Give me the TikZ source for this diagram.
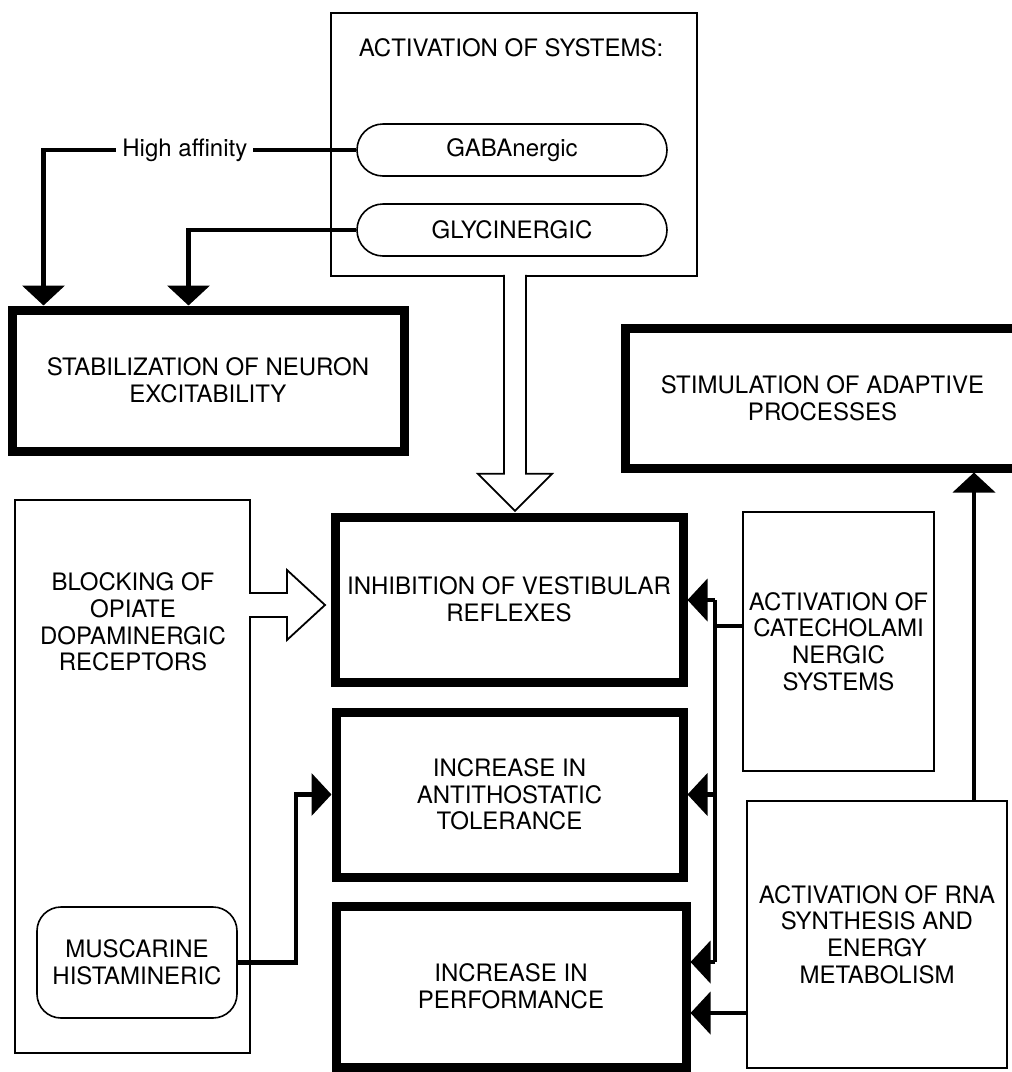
\documentclass[tikz,border=0pt]{standalone}
\usepackage{fontspec}
\setmainfont{TeX Gyre Heros}
\usetikzlibrary{arrows.meta}

\begin{document}
\begin{tikzpicture}[x=0.5pt, y=-0.5pt,
  every node/.style={font=\fontsize{12}{13.3}\selectfont, align=center, inner sep=0pt},
  thinbox/.style={draw, line width=0.8pt},
  boldbox/.style={draw, line width=4.5pt},
  pill/.style={draw, line width=0.8pt, rounded corners=13pt, minimum width=155pt, minimum height=26pt},
  link/.style={line width=2.2pt},
  tri/.style={-{Triangle[length=10pt,width=21pt]}},
  hollow/.style={draw, line width=0.9pt, fill=white}]
\useasboundingbox (0,0) rectangle (1012,1072);

% systems on top
\node[thinbox, minimum width=183pt, minimum height=131.5pt] (sys) at (514,144.5) {};
\node (systitle) at (511,48) {ACTIVATION OF SYSTEMS:};
\node[pill] (gaba) at (512,150) {GABAnergic};
\node[pill] (glyc) at (512,230) {GLYCINERGIC};

% effects
\node[boldbox, minimum width=196pt, minimum height=70.5pt] (stab) at (208,380.5) {STABILIZATION OF NEURON\\EXCITABILITY};
\node[boldbox, minimum width=197.5pt, minimum height=70pt] (stim) at (822.5,398) {STIMULATION OF ADAPTIVE\\PROCESSES};
\node[boldbox, minimum width=174pt, minimum height=82.5pt] (inhib) at (509,599.5) {INHIBITION OF VESTIBULAR\\REFLEXES};
\node[boldbox, minimum width=173.5pt, minimum height=82.5pt] (anti) at (509.5,794.5) {INCREASE IN\\ANTITHOSTATIC\\TOLERANCE};
\node[boldbox, minimum width=175pt, minimum height=80.5pt] (perf) at (511,986.5) {INCREASE IN\\PERFORMANCE};

% left side
\node[thinbox, minimum width=117.5pt, minimum height=276.5pt] (block) at (132.5,776.5) {};
\node (blocktext) at (133,622) {BLOCKING OF\\OPIATE\\DOPAMINERGIC\\RECEPTORS};
\node[thinbox, rounded corners=12pt, minimum width=100pt, minimum height=55.5pt] (musc) at (137,962.5) {MUSCARINE\\HISTAMINERIC};

% right side
\node[thinbox, minimum width=95.5pt, minimum height=129.5pt] (cate) at (838.5,641.5) {ACTIVATION OF\\CATECHOLAMI\\NERGIC\\SYSTEMS};
\node[thinbox, minimum width=130pt, minimum height=133.5pt] (rna) at (877,934.5) {ACTIVATION OF RNA\\SYNTHESIS AND\\ENERGY\\METABOLISM};

% open arrows
\draw[hollow] ([xshift=-5pt,yshift=1pt]sys.south) -- ++(0,199) -- ++(-26,0) -- ++(37,37) -- ++(37,-37) -- ++(-26,0) -- ++(0,-199);
\draw[hollow] (249,593) -- (287,593) -- (287,570) -- (325,605) -- (287,640) -- (287,617) -- (249,617);

% connectors
\draw[link,tri] (gaba.west) -| node[pos=0.274, fill=white, inner xsep=3pt, inner ysep=1pt] (affin) {High affinity} ([xshift=18pt]stab.north west);
\draw[link,tri] (glyc.west) -| ([xshift=90.5pt]stab.north west);
\draw[link,tri] (musc.east) -- ++(58,0) |- (anti.west);

\coordinate (bustop) at (715,600);
\coordinate (busend) at (715,962);
\draw[link] (bustop) -- (busend);
\draw[link] (bustop |- 0,626) -- (cate.west |- 0,626);
\draw[link,tri] (bustop) -- (bustop -| inhib.east);
\draw[link,tri] (bustop |- anti.east) -- (anti.east);
\draw[link,tri] (busend) -- (busend -| perf.east);
\draw[link,tri] (rna.west |- 0,1013) -- (perf.east |- 0,1013);
\draw[link,tri] (rna.north -| 974,0) -- (stim.south -| 974,0);
\end{tikzpicture}
\end{document}
